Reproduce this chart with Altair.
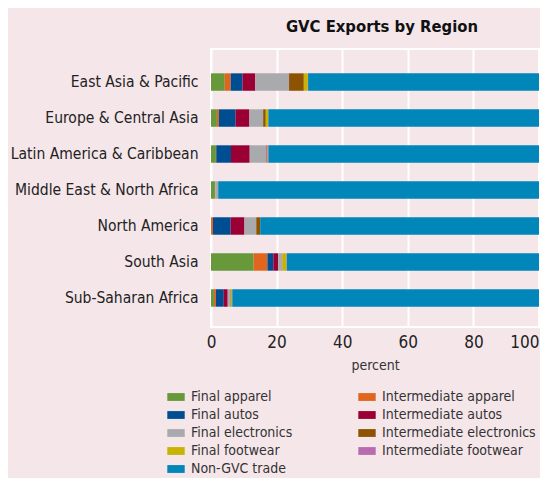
import altair as alt
import pandas as pd

regions = [
    "East Asia & Pacific",
    "Europe & Central Asia",
    "Latin America & Caribbean",
    "Middle East & North Africa",
    "North America",
    "South Asia",
    "Sub-Saharan Africa",
]

categories = [
    "Final apparel",
    "Intermediate apparel",
    "Final autos",
    "Intermediate autos",
    "Final electronics",
    "Intermediate electronics",
    "Final footwear",
    "Intermediate footwear",
    "Non-GVC trade",
]

colors = [
    "#67993a",
    "#e0661e",
    "#004e92",
    "#9a0033",
    "#a9aaad",
    "#8e5300",
    "#c8b400",
    "#b86cb0",
    "#0086b8",
]

final_apparel = [4.2, 1.8, 1.5, 1.2, 0.0, 13.0, 0.9]
intermediate_apparel = [1.8, 0.6, 0.1, 0.1, 0.6, 4.2, 0.6]
final_autos = [3.6, 5.1, 4.5, 0.0, 5.4, 1.8, 2.4]
intermediate_autos = [3.9, 4.2, 5.7, 0.0, 4.2, 1.5, 1.2]
final_electronics = [10.3, 4.2, 5.1, 0.9, 3.6, 1.2, 0.9]
intermediate_electronics = [4.5, 0.8, 0.2, 0.0, 1.2, 0.1, 0.1]
final_footwear = [1.2, 0.7, 0.1, 0.0, 0.0, 1.2, 0.3]
intermediate_footwear = [0.1, 0.1, 0.3, 0.0, 0.0, 0.1, 0.1]
non_gvc_trade = [70.4, 82.5, 82.5, 97.8, 85.0, 76.9, 93.5]

series = [
    final_apparel,
    intermediate_apparel,
    final_autos,
    intermediate_autos,
    final_electronics,
    intermediate_electronics,
    final_footwear,
    intermediate_footwear,
    non_gvc_trade,
]

rows = []
for ci, (cat, vals) in enumerate(zip(categories, series)):
    for reg, v in zip(regions, vals):
        rows.append({"region": reg, "category": cat, "value": v, "order": ci})
df = pd.DataFrame(rows)

FONT = "DejaVu Sans Condensed, DejaVu Sans, sans-serif"

chart = (
    alt.Chart(df)
    .mark_bar()
    .encode(
        y=alt.Y(
            "region:N",
            sort=regions,
            title=None,
            scale=alt.Scale(paddingInner=0.515, paddingOuter=0.62, align=0.545),
            axis=alt.Axis(
                labelFont=FONT,
                labelFontSize=15.5,
                labelColor="#222222",
                ticks=False,
                domain=False,
                grid=False,
                labelPadding=13,
                labelLimit=400,
            ),
        ),
        x=alt.X(
            "value:Q",
            stack="zero",
            scale=alt.Scale(domain=[0, 100], nice=False),
            axis=alt.Axis(
                values=[0, 20, 40, 60, 80, 100],
                title="percent",
                grid=True,
                gridColor="white",
                gridWidth=2,
                gridOpacity=1,
                ticks=False,
                domain=False,
                labelFont=FONT,
                labelFontSize=17,
                labelColor="#222222",
                labelFlush=False,
                labelAlign={"expr": "datum.value == 100 ? 'right' : 'center'"},
                labelPadding=7,
                titleFont=FONT,
                titleFontSize=14,
                titleFontWeight="normal",
                titleColor="#333333",
                titlePadding=8,
            ),
        ),
        color=alt.Color(
            "category:N",
            scale=alt.Scale(domain=categories, range=colors),
            legend=alt.Legend(
                title=None,
                orient="none",
                direction="horizontal",
                legendX=-44,
                legendY=339,
                columns=2,
                columnPadding=65,
                rowPadding=2.0,
                padding=0,
                symbolType="M-1,-0.45H1V0.45H-1Z",
                symbolSize=303,
                symbolStrokeWidth=0,
                symbolOpacity=1,
                labelFont=FONT,
                labelFontSize=14,
                labelColor="#333333",
                labelOffset=6,
                labelLimit=300,
            ),
        ),
        order=alt.Order("order:Q"),
    )
    .properties(
        width=328,
        height=278,
        autosize=alt.AutoSizeParams(type="none"),
        padding={"left": 203, "top": 41, "right": 1, "bottom": 151},
        background="#f5e6ea",
        title=alt.TitleParams(
            "GVC Exports by Region",
            font=FONT,
            fontSize=16.5,
            fontWeight="bold",
            color="#111111",
            anchor="middle",
            dx=7,
            offset=14,
        ),
    )
    .configure_view(stroke="white", strokeWidth=2)
)

chart.save("out.html", embed_options={"renderer": "svg", "actions": False})
